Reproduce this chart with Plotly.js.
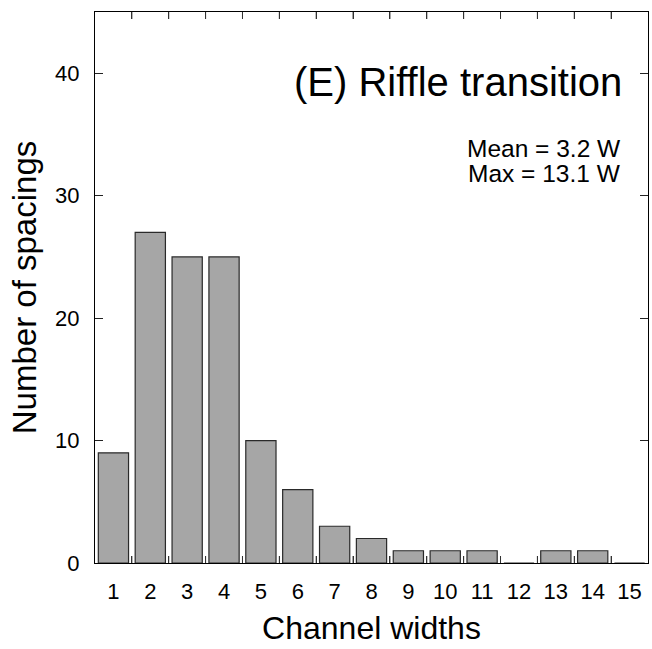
<!DOCTYPE html>
<html><head><meta charset="utf-8">
<script src="https://cdn.plot.ly/plotly-3.0.1.min.js"></script>
<style>body{margin:0;padding:0;background:#fff}#chart{width:652px;height:649px}</style>
</head><body><div id="chart"></div>
<script>
const widths = [1,2,3,4,5,6,7,8,9,10,11,12,13,14,15];
const counts = [9,27,25,25,10,6,3,2,1,1,1,0,1,1,0];
const yTicks = [0,10,20,30,40];
const tickLabels = ["1","2","3","4","5","6","7","8","9","10","11","12","13","14","15"];
const titleText = "(E) Riffle transition";
const statsLines = ["Mean = 3.2 W", "Max = 13.1 W"];

const xRange = [widths[0]-0.5, widths[widths.length-1]+0.5];
// ticks sit on bin edges; labels centred on the bins
const edgeVals = widths.map(w => w - 0.5).concat([xRange[1]]);
const innerEdges = edgeVals.slice(1, -1);

const font = "Arial, 'Liberation Sans', sans-serif";
const traces = [
  {type:'bar', x:widths, y:counts, xaxis:'x', yaxis:'y',
   marker:{color:'#a6a6a6', line:{color:'#2a2a2a', width:1.2}}, hoverinfo:'skip'},
  {type:'scatter', x:widths, y:counts, xaxis:'x2', yaxis:'y', mode:'markers',
   marker:{size:1, opacity:0}, hoverinfo:'skip', showlegend:false}
];
// bin-edge tick marks (pixel-sized, inside the frame, bottom and top)
const tickShapes = [];
innerEdges.forEach(e => {
  tickShapes.push({type:'line', xref:'x', yref:'paper', ysizemode:'pixel', yanchor:0,
    x0:e, x1:e, y0:0, y1:7, line:{color:'#333', width:1}, layer:'above'});
  tickShapes.push({type:'line', xref:'x', yref:'paper', ysizemode:'pixel', yanchor:1,
    x0:e, x1:e, y0:0, y1:-7, line:{color:'#333', width:1}, layer:'above'});
});
const layout = {
  width:652, height:649, margin:{l:95, r:4, t:12, b:86},
  paper_bgcolor:'#fff', plot_bgcolor:'#fff',
  showlegend:false, bargap:0.18,
  font:{family:font, color:'#000'},
  xaxis:{range:xRange, tickmode:'array', tickvals:edgeVals, showticklabels:false,
    ticks:'inside', ticklen:7, tickcolor:'#333', tickwidth:1,
    showgrid:false, zeroline:false, showline:true, linecolor:'#000', linewidth:1.2, mirror:'ticks',
    title:{text:'Channel widths', font:{size:32, family:font}, standoff:53}},
  xaxis2:{overlaying:'x', anchor:'y', side:'bottom', range:xRange,
    tickmode:'array', tickvals:widths, ticktext:tickLabels, ticks:'', showline:false,
    showgrid:false, zeroline:false, tickfont:{size:22, family:font}, ticklabelstandoff:13},
  yaxis:{range:[0,45], tickmode:'array', tickvals:yTicks, ticktext:yTicks.map(String),
    ticks:'inside', ticklen:8, tickcolor:'#222', tickwidth:1.2, mirror:'ticks',
    showgrid:false, zeroline:false, showline:true, linecolor:'#000', linewidth:1.2,
    tickfont:{size:22, family:font}, ticklabelstandoff:10,
    title:{text:'Number of spacings', font:{size:33, family:font}, standoff:8}},
  shapes: tickShapes,
  annotations:[
    {text:titleText, xref:'paper', yref:'paper', x:0.956, y:0.873, xanchor:'right', yanchor:'middle',
     showarrow:false, font:{size:40, family:font}},
    {text:statsLines[0], xref:'paper', yref:'paper', x:0.954, y:0.753, xanchor:'right', yanchor:'middle',
     showarrow:false, font:{size:24.5, family:font}},
    {text:statsLines[1], xref:'paper', yref:'paper', x:0.954, y:0.706, xanchor:'right', yanchor:'middle',
     showarrow:false, font:{size:24.5, family:font}}
  ]
};
Plotly.newPlot('chart', traces, layout, {displayModeBar:false, staticPlot:true});
</script></body></html>
